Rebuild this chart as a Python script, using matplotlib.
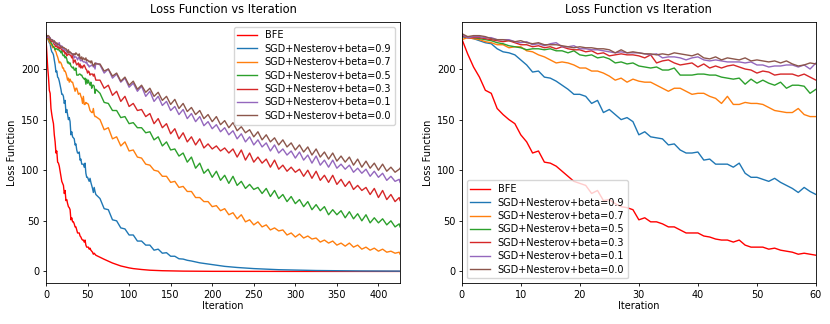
import matplotlib
matplotlib.use('Agg')
import matplotlib.pyplot as plt

# labels / colours
labels = ['BFE', 'SGD+Nesterov+beta=0.9', 'SGD+Nesterov+beta=0.7', 'SGD+Nesterov+beta=0.5',
          'SGD+Nesterov+beta=0.3', 'SGD+Nesterov+beta=0.1', 'SGD+Nesterov+beta=0.0']
colors = ['red', 'C0', 'C1', 'C2', 'C3', 'C4', 'C5']

# first 61 iterations (0..60)
bfe_head = [230, 215, 202, 192, 179, 176, 161, 155, 150, 146,
            135, 128, 117, 119, 108, 107, 104, 99, 94, 89,
            87, 85, 77, 80, 70, 71, 67, 64, 63, 61,
            51, 53, 49, 49, 47, 44, 44, 41, 38, 38,
            38, 35, 34, 32, 31, 31, 29, 31, 26, 24,
            24, 24, 22, 23, 21, 20, 19, 17, 18, 17, 16]
b09_head = [232, 231, 230, 228, 226, 225, 220, 217, 216, 214,
            209, 204, 197, 198, 192, 191, 188, 184, 180, 175,
            175, 173, 166, 169, 157, 160, 155, 150, 152, 148,
            135, 138, 133, 132, 131, 125, 126, 120, 117, 117,
            118, 110, 111, 106, 106, 106, 103, 107, 97, 93,
            93, 91, 89, 92, 88, 85, 82, 78, 83, 79, 76]
b07_head = [229, 231, 230, 229, 227, 226, 224, 224, 221, 222,
            222, 218, 217, 214, 212, 209, 206, 207, 206, 204,
            201, 201, 198, 198, 196, 193, 189, 191, 187, 190,
            188, 187, 187, 184, 181, 178, 181, 181, 178, 175,
            176, 176, 173, 171, 166, 173, 165, 165, 167, 166,
            166, 165, 162, 159, 158, 157, 157, 161, 155, 153, 153]
b05_head = [232, 232, 231, 230, 229, 228, 226, 225, 223, 222,
            221, 219, 220, 220, 219, 220, 218, 218, 216, 218,
            214, 213, 214, 211, 212, 210, 206, 207, 205, 206,
            203, 202, 201, 202, 199, 199, 201, 194, 194, 194,
            195, 195, 194, 194, 192, 191, 190, 191, 185, 190,
            186, 189, 186, 184, 187, 181, 184, 184, 183, 176, 180]
b03_head = [233, 231, 231, 231, 230, 229, 228, 227, 228, 226,
            224, 224, 222, 223, 221, 222, 220, 222, 220, 219,
            219, 217, 218, 215, 216, 213, 214, 215, 214, 214,
            213, 211, 214, 206, 208, 209, 206, 204, 205, 206,
            202, 205, 201, 203, 201, 203, 204, 202, 200, 199,
            196, 198, 197, 194, 195, 195, 195, 193, 195, 192, 189]
b01_head = [234, 231, 232, 232, 231, 231, 229, 229, 229, 227,
            226, 227, 224, 225, 223, 225, 226, 222, 222, 223,
            220, 220, 219, 219, 218, 217, 216, 217, 216, 216,
            216, 215, 214, 215, 211, 212, 212, 211, 209, 211,
            212, 209, 208, 209, 208, 207, 207, 207, 206, 207,
            204, 204, 202, 203, 203, 204, 204, 202, 204, 200, 206]
b00_head = [235, 232, 233, 233, 232, 230, 229, 229, 228, 227,
            228, 226, 225, 226, 224, 224, 224, 223, 222, 221,
            222, 221, 221, 220, 220, 219, 216, 219, 216, 217,
            216, 215, 215, 214, 215, 214, 216, 215, 214, 213,
            215, 211, 210, 212, 209, 211, 210, 209, 211, 208,
            209, 208, 207, 208, 206, 208, 205, 203, 204, 206, 205]

# later iterations 65, 70, ..., 425 and 426
iter_tail = list(range(65, 426, 5)) + [426]
bfe_tail = [14.0, 12.0, 10.2, 8.3, 6.8, 5.4, 4.4, 3.5, 2.8, 2.3,
            1.9, 1.5, 1.2, 1.0, 0.85, 0.7, 0.6, 0.5, 0.42, 0.36,
            0.3, 0.26, 0.22, 0.19, 0.16, 0.14, 0.12, 0.1, 0.09, 0.08,
            0.07, 0.06, 0.05, 0.05, 0.04, 0.04, 0.03, 0.03, 0.03, 0.02,
            0.02, 0.02, 0.02, 0.02, 0.02, 0.02, 0.02, 0.02, 0.02, 0.02,
            0.02, 0.01, 0.01, 0.01, 0.01, 0.01, 0.01, 0.01, 0.01, 0.01,
            0.01, 0.01, 0.01, 0.01, 0.01, 0.01, 0.01, 0.01, 0.01, 0.01,
            0.01, 0.01, 0.01, 0.01]
b09_tail = [72, 62, 61, 51, 50, 43, 42, 36, 36, 30,
            30, 26, 26, 21, 22, 18, 18.5, 15, 15, 12.5,
            12.2, 11, 10.3, 9.4, 8.5, 7.9, 7.2, 6.6, 6.0, 5.5,
            5.0, 4.6, 4.2, 3.9, 3.6, 3.3, 3.0, 2.8, 2.6, 2.4,
            2.2, 2.0, 1.9, 1.7, 1.6, 1.5, 1.4, 1.3, 1.2, 1.1,
            1.0, 0.95, 0.9, 0.85, 0.8, 0.75, 0.7, 0.65, 0.6, 0.55,
            0.52, 0.5, 0.47, 0.45, 0.43, 0.41, 0.39, 0.37, 0.35, 0.33,
            0.32, 0.31, 0.3, 0.3]
b07_tail = [150, 140, 142, 131, 133, 124, 128, 119, 120, 113,
            112, 106, 105, 100, 99, 94, 94, 88, 89, 83,
            84, 79, 79, 73, 73, 69, 69, 64, 65, 60,
            62, 56, 58, 52, 56, 49, 51, 46, 49, 44,
            46, 41, 43, 40, 41, 36, 38, 34, 37, 33,
            35, 32, 33, 29, 31, 28, 30, 26, 28, 25,
            28, 24, 26, 22, 24, 21, 23, 20, 22, 19,
            20, 18, 19, 17]
b05_tail = [176, 167, 166, 159, 159, 152, 153, 146, 147, 142,
            142, 137, 138, 130, 133, 124, 128, 120, 121, 114,
            117, 108, 113, 102, 107, 97, 101, 93, 99, 90,
            95, 87, 94, 85, 89, 82, 86, 81, 83, 77,
            82, 74, 80, 72, 76, 69, 74, 67, 71, 64,
            69, 61, 66, 60, 64, 56, 61, 56, 60, 53,
            59, 52, 57, 50, 56, 48, 53, 48, 52, 46,
            50, 44, 47, 44]
b03_tail = [189, 181, 184, 174, 178, 168, 173, 163, 166, 159,
            160, 153, 156, 146, 151, 142, 146, 136, 141, 131,
            137, 128, 133, 125, 131, 122, 126, 121, 124, 119,
            122, 117, 121, 113, 120, 110, 117, 108, 113, 107,
            111, 103, 110, 101, 105, 99, 103, 98, 101, 94,
            100, 92, 99, 90, 95, 88, 95, 86, 91, 84,
            89, 81, 85, 80, 83, 76, 82, 73, 80, 71,
            76, 69, 73, 70]
b01_tail = [204, 196, 200, 191, 195, 187, 191, 182, 186, 178,
            183, 173, 178, 168, 173, 164, 168, 159, 163, 155,
            160, 151, 156, 148, 153, 144, 148, 141, 145, 138,
            142, 135, 139, 131, 136, 128, 133, 125, 130, 123,
            127, 119, 125, 117, 121, 115, 119, 112, 118, 110,
            115, 107, 114, 105, 110, 103, 110, 102, 106, 101,
            105, 98, 102, 97, 101, 94, 99, 93, 97, 90,
            94, 89, 91, 88]
b00_tail = [205, 198, 200, 193, 196, 188, 192, 184, 188, 180,
            184, 177, 181, 173, 177, 169, 173, 165, 170, 161,
            166, 158, 162, 155, 159, 151, 155, 148, 153, 145,
            149, 142, 147, 139, 143, 137, 140, 133, 138, 130,
            135, 128, 132, 125, 130, 123, 127, 120, 125, 118,
            123, 115, 121, 113, 118, 111, 117, 109, 114, 108,
            113, 105, 111, 103, 109, 102, 107, 100, 106, 99,
            103, 98, 101, 102]

heads = [bfe_head, b09_head, b07_head, b05_head, b03_head, b01_head, b00_head]
tails = [bfe_tail, b09_tail, b07_tail, b05_tail, b03_tail, b01_tail, b00_tail]
iter_all = list(range(61)) + iter_tail

plt.rcParams['font.size'] = 7
fig = plt.figure(figsize=(8.3, 3.24), dpi=100)
ax1 = fig.add_axes([0.0554, 0.1256, 0.4266, 0.8074])
ax2 = fig.add_axes([0.5563, 0.1256, 0.4268, 0.8074])

# same curves on both panels, right one zoomed on the first 60 iterations
for h, t, lab, c in zip(heads, tails, labels, colors):
    ax1.plot(iter_all, h + t, color=c, label=lab, linewidth=1.0)
    ax2.plot(iter_all, h + t, color=c, label=lab, linewidth=1.0)

ax1.set_xlim(0, 426)
ax2.set_xlim(0, 60)
for ax in (ax1, ax2):
    ax.set_title('Loss Function vs Iteration', fontsize=8.3)
    ax.set_xlabel('Iteration', labelpad=1)
    ax.set_ylabel('Loss Function', labelpad=3)
    ax.tick_params(length=2.5, width=0.6, pad=2)
    for s in ax.spines.values():
        s.set_linewidth(0.6)
ax1.legend(loc='upper right', fontsize=7, handlelength=2, borderpad=0.4, labelspacing=0.35)
ax2.legend(loc='lower left', fontsize=7, handlelength=2, borderpad=0.4, labelspacing=0.35)

fig.savefig('out.png', dpi=100)
